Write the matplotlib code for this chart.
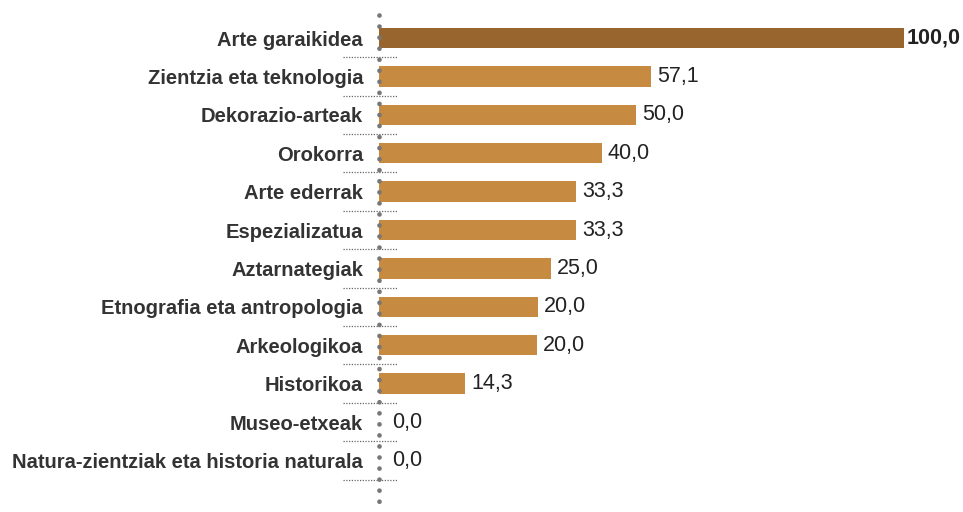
import matplotlib
matplotlib.use("Agg")
import matplotlib.pyplot as plt

# Museum categories and their values (bar lengths, labels as printed)
categories = [
    "Arte garaikidea",
    "Zientzia eta teknologia",
    "Dekorazio-arteak",
    "Orokorra",
    "Arte ederrak",
    "Espezializatua",
    "Aztarnategiak",
    "Etnografia eta antropologia",
    "Arkeologikoa",
    "Historikoa",
    "Museo-etxeak",
    "Natura-zientziak eta historia naturala",
]
bar_values = [100.0, 51.8, 49.0, 42.4, 37.5, 37.5, 32.8, 30.3, 30.1, 16.4, 0.0, 0.0]
value_labels = ["100,0", "57,1", "50,0", "40,0", "33,3", "33,3", "25,0",
                "20,0", "20,0", "14,3", "0,0", "0,0"]

BAR_COLOR = "#C68A40"
TOP_COLOR = "#98652F"
DOT_COLOR = "#777777"
TEXT_COLOR = "#333333"

plt.rcParams["font.family"] = ["Liberation Sans", "DejaVu Sans"]

W, H, DPI = 963, 512, 100
fig = plt.figure(figsize=(W / DPI, H / DPI), dpi=DPI)
ax_left = 379 / W
ax_top = 15 / H
ax = fig.add_axes([ax_left, 0, 1 - ax_left, 1 - ax_top])

n = len(categories)
ypos = list(range(n))
colors = [TOP_COLOR] + [BAR_COLOR] * (n - 1)
ax.barh(ypos, bar_values, height=0.53, color=colors, left=0)

px_per_unit = 525 / 100.0
ax.set_xlim(0, (W - 379) / px_per_unit)
row_px = 38.4
ax.set_ylim(-0.6 + (H - 15) / row_px, -0.6)

for i, (v, lab) in enumerate(zip(bar_values, value_labels)):
    off = 13 if v == 0 else (3 if i == 0 else 6)
    ax.annotate(lab, xy=(v, i), xytext=(off * 72 / DPI, 0), textcoords="offset points",
                ha="left", va="center", fontsize=15.5,
                color="#222222", fontweight="bold" if i == 0 else "normal")

# category labels
ax.set_yticks(ypos)
ax.set_yticklabels(categories, fontsize=14.5, fontweight="bold", color=TEXT_COLOR)
ax.tick_params(axis="y", length=0, pad=16 * 72 / DPI)
ax.set_xticks([])

for s in ax.spines.values():
    s.set_visible(False)

# dotted separators between rows
for i in range(n):
    yb = i + 0.5
    ax.plot([-36 / px_per_unit, 19 / px_per_unit], [yb, yb], color="#666666",
            linestyle=(0, (1, 1.2)), linewidth=0.9, clip_on=False, zorder=1)

# dotted vertical axis, drawn from the top down so the first dot sits at the top
y_bottom, y_top = ax.get_ylim()
ax.plot([0, 0], [y_top, y_bottom], color=DOT_COLOR, linewidth=3.4,
        linestyle=(0, (0.01, 2.33)), dash_capstyle="round", clip_on=False, zorder=4)

fig.savefig("out.png", dpi=DPI)
